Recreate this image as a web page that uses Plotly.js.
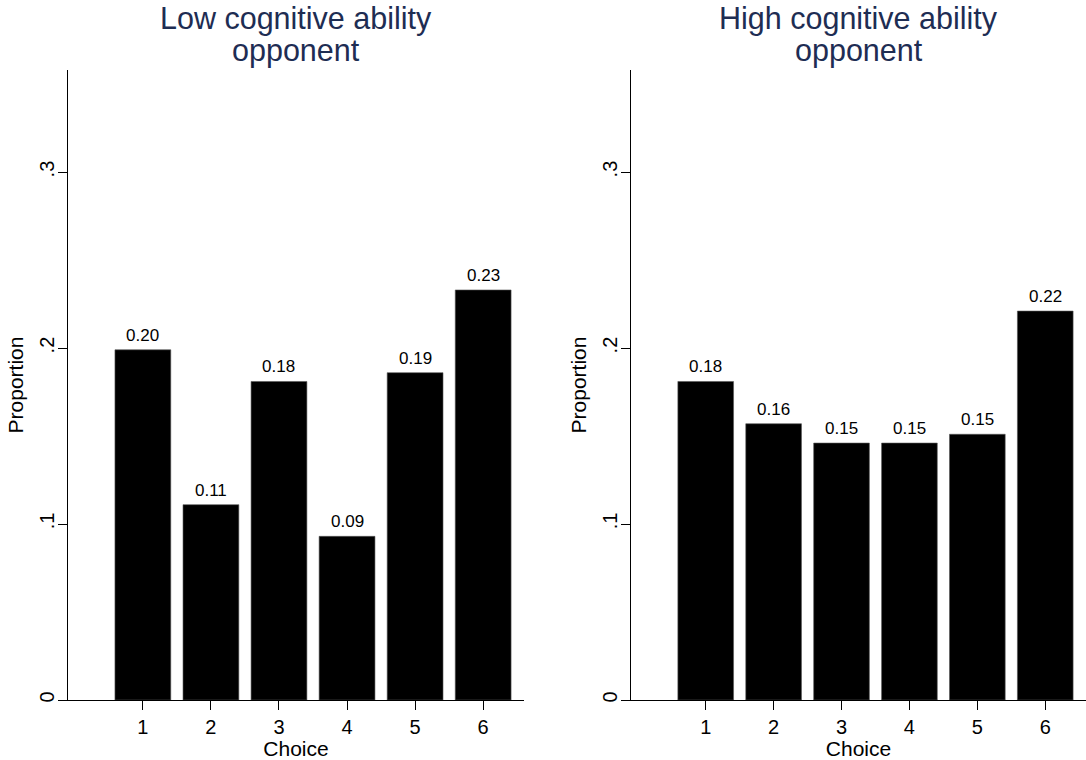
<!DOCTYPE html>
<html>
<head>
<meta charset="utf-8">
<script src="https://cdn.plot.ly/plotly-3.0.1.min.js"></script>
<style>html,body{margin:0;padding:0;background:#fff;}#chart{width:1086px;height:760px;}</style>
</head>
<body>
<div id="chart"></div>
<script>
const choices = [1, 2, 3, 4, 5, 6];
const lowValues = [0.199, 0.111, 0.181, 0.093, 0.186, 0.233];
const lowLabels = ["0.20", "0.11", "0.18", "0.09", "0.19", "0.23"];
const highValues = [0.181, 0.157, 0.146, 0.146, 0.151, 0.221];
const highLabels = ["0.18", "0.16", "0.15", "0.15", "0.15", "0.22"];
const yTickVals = [0, 0.1, 0.2, 0.3];
const yTickText = ["0", ".1", ".2", ".3"];
const titleLine1 = ["Low cognitive ability", "High cognitive ability"];
const titleLine2 = ["opponent", "opponent"];

const FONT = "Liberation Sans, Arial, sans-serif";

function barTrace(vals, xa, ya) {
  return {
    type: "bar", x: choices, y: vals, xaxis: xa, yaxis: ya,
    width: 0.82,
    marker: {color: "#000000", line: {color: "#555555", width: 0.6}},
    hoverinfo: "x+y", showlegend: false
  };
}

function valueLabels(vals, labels, xa, ya) {
  return choices.map((c, i) => ({
    x: c, y: vals[i], xref: xa, yref: ya, text: labels[i],
    showarrow: false, xanchor: "center", yanchor: "bottom", yshift: 3,
    font: {family: FONT, size: 17, color: "#000"}
  }));
}

function xAxis(domain, anchor) {
  return {
    domain: domain, anchor: anchor, range: [-0.1, 6.6],
    tickvals: choices, ticktext: choices.map(String),
    ticks: "outside", ticklen: 9, tickwidth: 1, tickcolor: "#000",
    showline: true, linecolor: "#000", linewidth: 1,
    showgrid: false, zeroline: false,
    tickfont: {family: FONT, size: 20, color: "#000"},
    title: {text: "Choice", font: {family: FONT, size: 21, color: "#000"}, standoff: 0},
    fixedrange: true
  };
}

function yAxis(domain, anchor) {
  return {
    domain: domain, anchor: anchor, range: [0, 0.358],
    tickvals: yTickVals, ticktext: yTickText, tickangle: -90,
    ticks: "outside", ticklen: 9, tickwidth: 1, tickcolor: "#000",
    ticklabelstandoff: -4,
    showline: true, linecolor: "#000", linewidth: 1,
    showgrid: false, zeroline: false,
    tickfont: {family: FONT, size: 20, color: "#000"},
    title: {text: "Proportion", font: {family: FONT, size: 21, color: "#000"}, standoff: 6},
    fixedrange: true
  };
}

const yDom = [1 - 700 / 760, 1 - 70 / 760];
const xDomL = [68 / 1086, 524 / 1086];
const xDomR = [631 / 1086, 1.0];
const centers = [(xDomL[0] + xDomL[1]) / 2, (xDomR[0] + xDomR[1]) / 2];

const titleAnns = [];
for (let p = 0; p < 2; p++) {
  titleAnns.push({text: titleLine1[p], xref: "paper", yref: "paper", x: centers[p], y: 1,
    xanchor: "center", yanchor: "top", showarrow: false, borderpad: 0,
    font: {family: FONT, size: 30.5, color: "#1e2d53"}});
  titleAnns.push({text: titleLine2[p], xref: "paper", yref: "paper", x: centers[p], y: 1 - 32 / 760,
    xanchor: "center", yanchor: "top", showarrow: false, borderpad: 0,
    font: {family: FONT, size: 30.5, color: "#1e2d53"}});
}

const layout = {
  width: 1086, height: 760,
  margin: {l: 0, r: 0, t: 0, b: 0},
  paper_bgcolor: "#ffffff", plot_bgcolor: "#ffffff",
  font: {family: FONT, color: "#000"},
  xaxis: xAxis(xDomL, "y"),
  yaxis: yAxis(yDom, "x"),
  xaxis2: xAxis(xDomR, "y2"),
  yaxis2: yAxis(yDom, "x2"),
  annotations: titleAnns
    .concat(valueLabels(lowValues, lowLabels, "x", "y"))
    .concat(valueLabels(highValues, highLabels, "x2", "y2"))
};

Plotly.newPlot("chart", [
  barTrace(lowValues, "x", "y"),
  barTrace(highValues, "x2", "y2")
], layout, {displayModeBar: false, staticPlot: true});
</script>
</body>
</html>
